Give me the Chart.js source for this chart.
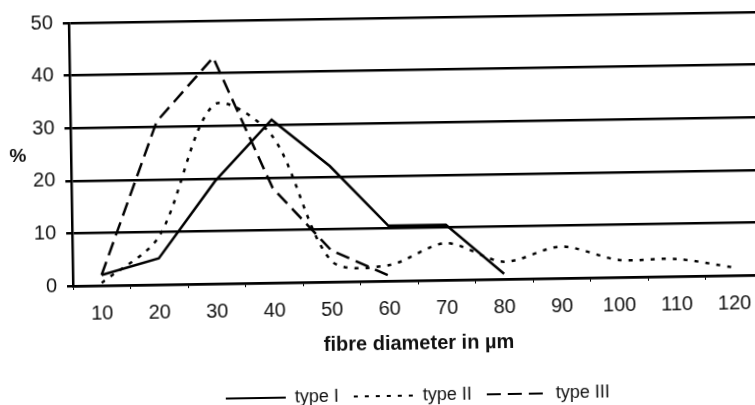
<!DOCTYPE html>
<html>
<head>
<meta charset="utf-8">
<title>fibre diameter</title>
<script src="https://cdn.jsdelivr.net/npm/chart.js@4.4.1/dist/chart.umd.min.js"></script>
<style>
  html, body { margin: 0; padding: 0; background: #fff; overflow: hidden; }
  /* the scan is a little skewed, so tilt the whole chart the same way */
  #wrap { position: absolute; left: 0; top: 0; width: 800px; height: 424px;
          transform: rotate(-0.92deg); transform-origin: 73px 285px; }
</style>
</head>
<body>
<div id="wrap"><canvas id="myChart" width="800" height="424"></canvas></div>
<script>
// data
const diameters = ['10', '20', '30', '40', '50', '60', '70', '80', '90', '100', '110', '120'];
const typeI = [2, 5, 19.5, 31, 22, 10.5, 10.5, 1];
const typeII = [0.5, 9, 34, 28, 4, 3, 7, 3.3, 6, 3.3, 3.3, 1.5];
const typeIII = [2, 31, 43, 18, 6, 1];
const yTicks = [0, 10, 20, 30, 40, 50];

const ink = '#000';
const textInk = '#111';
Chart.defaults.font.family = "'Liberation Sans', Arial, sans-serif";
Chart.defaults.color = textInk;

// horizontal "%" next to the y axis
const percentLabel = {
    id: 'percentLabel',
    afterDraw(chart) {
        const ctx = chart.ctx;
        ctx.save();
        ctx.font = "bold 19px 'Liberation Sans', Arial, sans-serif";
        ctx.fillStyle = textInk;
        ctx.textAlign = 'center';
        ctx.textBaseline = 'middle';
        ctx.fillText('%', chart.chartArea.left - 53, 156);
        ctx.restore();
    }
};

const data = {
    labels: diameters,
    datasets: [{
        label: 'type I',
        data: typeI,
        borderColor: ink,
        backgroundColor: ink,
        borderWidth: 2.5,
        pointRadius: 0,
        tension: 0
    }, {
        label: 'type II',
        data: typeII,
        borderColor: ink,
        backgroundColor: ink,
        borderWidth: 2.5,
        borderDash: [4, 7],
        pointRadius: 0,
        tension: 0.3
    }, {
        label: 'type III',
        data: typeIII,
        borderColor: ink,
        backgroundColor: ink,
        borderWidth: 2.5,
        borderDash: [14, 7],
        pointRadius: 0,
        tension: 0
    }]
};

const config = {
    type: 'line',
    data,
    options: {
        responsive: false,
        animation: false,
        devicePixelRatio: 1,
        layout: { padding: { left: 33, right: 1, top: 23, bottom: 4 } },
        plugins: {
            tooltip: { enabled: false },
            legend: {
                position: 'bottom',
                labels: {
                    usePointStyle: true,
                    pointStyle: 'line',
                    pointStyleWidth: 60,
                    padding: 15,
                    color: textInk,
                    font: { size: 18 },
                    // keep the dash pattern of each line in the legend
                    generateLabels: function (chart) {
                        const items = Chart.defaults.plugins.legend.labels.generateLabels(chart);
                        items.forEach(function (item) {
                            const ds = chart.data.datasets[item.datasetIndex];
                            item.lineDash = ds.borderDash || [];
                            item.lineWidth = 2;
                            item.strokeStyle = ink;
                        });
                        return items;
                    }
                }
            }
        },
        scales: {
            x: {
                offset: true,
                grid: { offset: true, drawOnChartArea: false, drawTicks: true, tickLength: 4, color: ink, lineWidth: 1 },
                border: { display: true, color: ink, width: 2.5 },
                ticks: { padding: 12, font: { size: 20 }, color: textInk, maxRotation: 0, autoSkip: false },
                title: {
                    display: true,
                    text: 'fibre diameter in µm',
                    color: textInk,
                    font: { size: 20, weight: 'bold', lineHeight: 1.1 },
                    padding: { top: 0, bottom: 17 }
                }
            },
            y: {
                min: yTicks[0],
                max: yTicks[yTicks.length - 1],
                ticks: { stepSize: yTicks[1] - yTicks[0], padding: 10, font: { size: 20 }, color: textInk },
                grid: { color: ink, lineWidth: 2.5, tickLength: 6 },
                border: { display: true, color: ink, width: 2.5 },
                afterFit: function (scale) { scale.width = 40; }
            },
            // empty right axis: only reserves room so the plot runs off the right edge like the scan
            yRight: {
                type: 'linear',
                position: 'right',
                ticks: { display: false },
                grid: { display: false },
                border: { display: false },
                afterFit: function (scale) { scale.width = 36; }
            }
        }
    },
    plugins: [percentLabel]
};

const myChart = new Chart(document.getElementById('myChart'), config);
</script>
</body>
</html>
